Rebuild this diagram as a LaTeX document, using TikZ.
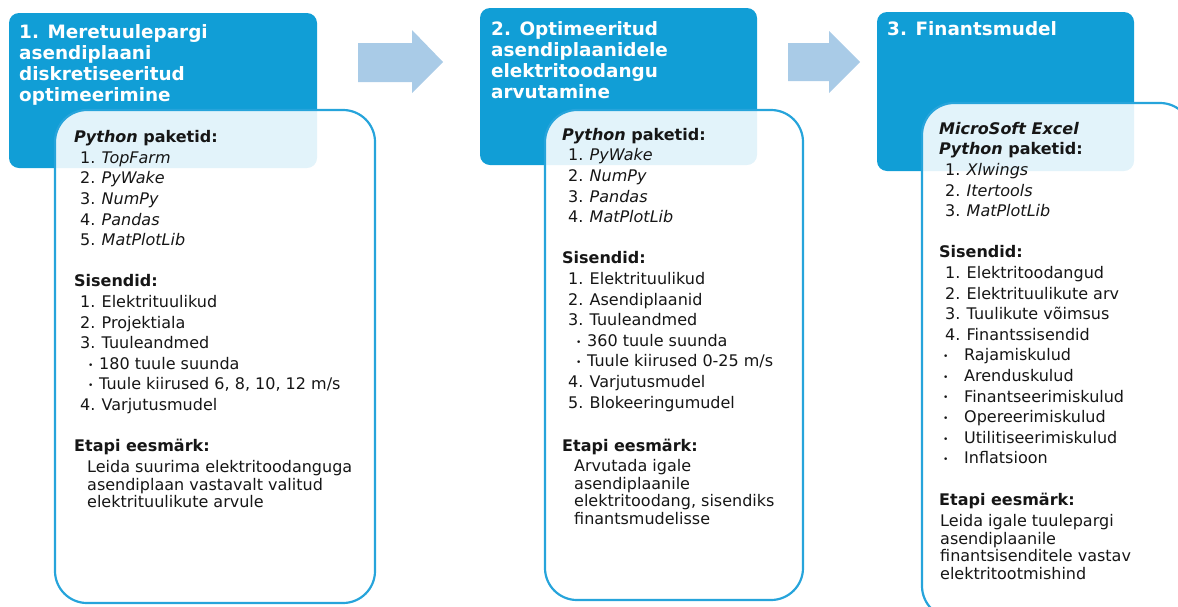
\documentclass[tikz,border=0pt]{standalone}
\usepackage{fontspec}
\setmainfont{DejaVu Sans}

\definecolor{stageblue}{RGB}{17,158,214}
\definecolor{frameblue}{RGB}{38,164,219}
\definecolor{arrowblue}{RGB}{169,203,231}
\definecolor{ink}{RGB}{22,22,22}

\newcommand\topstrut{\rule{0pt}{13pt}}
\newcommand\nr[2]{\hspace*{6pt}\makebox[21.5pt][l]{#1.}#2}
\newcommand\dotmark{\raisebox{1.2pt}{\fontsize{9}{9}\selectfont •}}
\newcommand\bul[1]{\hspace*{14pt}\makebox[11pt][l]{\dotmark}#1}
\newcommand\bulx[1]{\hspace*{4pt}\makebox[21pt][l]{\dotmark}#1}

\begin{document}
\begin{tikzpicture}[x=1pt, y=-1pt,
        stage/.style={fill=stageblue, rounded corners=10pt},
        card/.style={fill=white, fill opacity=0.88, draw=frameblue, line width=2.2pt, rounded corners=32pt},
        blockarrow/.style={fill=arrowblue},
        heading/.style={anchor=north west, inner sep=0pt, align=left, text=white, font=\fontsize{18.4}{21}\selectfont\bfseries},
        body/.style={anchor=north west, inner sep=0pt, align=left, text=ink, font=\fontsize{16}{20.6}\selectfont},
        goal/.style={anchor=north west, inner sep=0pt, align=left, text=ink, font=\fontsize{16}{17.8}\selectfont}]
    \useasboundingbox (0,0) rectangle (1178,606);
    \clip (0,0) rectangle (1178,606);

    \path[stage] (9,13) rectangle (317,168);
    \path[stage] (480,8) rectangle (757,165);
    \path[stage] (877,12) rectangle (1134,171);

    \path[blockarrow] (358,43) -- (412,43) -- (412,30) -- (443,62) -- (412,93) -- (412,82) -- (358,82) -- cycle;
    \path[blockarrow] (788,43) -- (829,43) -- (829,31) -- (860,62) -- (829,93) -- (829,81) -- (788,81) -- cycle;

    \draw[card] (55,110) rectangle (375,603);
    \draw[card] (545,110) rectangle (803,600);
    \draw[card] (922,103) rectangle (1192,618);

    \node[heading] (title1) at (19,24) {\rule{0pt}{14pt}1. Meretuulepargi\\asendiplaani\\diskretiseeritud\\optimeerimine};
    \node[heading] (title2) at (491,21) {\rule{0pt}{14pt}2. Optimeeritud\\asendiplaanidele\\elektritoodangu\\arvutamine};
    \node[heading] (title3) at (887,21) {\rule{0pt}{14pt}3. Finantsmudel};

    \node[body] (list1) at (74,129.5) {\textbf{\textit{Python} paketid:}\topstrut\\
        \nr{1}{\textit{TopFarm}}\\
        \nr{2}{\textit{PyWake}}\\
        \nr{3}{\textit{NumPy}}\\
        \nr{4}{\textit{Pandas}}\\
        \nr{5}{\textit{MatPlotLib}}\\[20.6pt]
        \textbf{Sisendid:}\\
        \nr{1}{Elektrituulikud}\\
        \nr{2}{Projektiala}\\
        \nr{3}{Tuuleandmed}\\
        \bul{180 tuule suunda}\\
        \bul{Tuule kiirused 6, 8, 10, 12 m/s}\\
        \nr{4}{Varjutusmudel}\\[20.6pt]
        \textbf{Etapi eesmärk:}};
    \node[goal] (goal1) at (87,459) {\topstrut Leida suurima elektritoodanguga\\asendiplaan vastavalt valitud\\elektrituulikute arvule};

    \node[body] (list2) at (562,127) {\textbf{\textit{Python} paketid:}\topstrut\\
        \nr{1}{\textit{PyWake}}\\
        \nr{2}{\textit{NumPy}}\\
        \nr{3}{\textit{Pandas}}\\
        \nr{4}{\textit{MatPlotLib}}\\[20.6pt]
        \textbf{Sisendid:}\\
        \nr{1}{Elektrituulikud}\\
        \nr{2}{Asendiplaanid}\\
        \nr{3}{Tuuleandmed}\\
        \bul{360 tuule suunda}\\
        \bul{Tuule kiirused 0-25 m/s}\\
        \nr{4}{Varjutusmudel}\\
        \nr{5}{Blokeeringumudel}\\[22.5pt]
        \textbf{Etapi eesmärk:}};
    \node[goal] (goal2) at (574,458) {\topstrut Arvutada igale\\asendiplaanile\\elektritoodang, sisendiks\\finantsmudelisse};

    \node[body] (list3) at (939,121) {\textbf{\textit{MicroSoft Excel}}\topstrut\\
        \textbf{\textit{Python} paketid:}\\
        \nr{1}{\textit{Xlwings}}\\
        \nr{2}{\textit{Itertools}}\\
        \nr{3}{\textit{MatPlotLib}}\\[20.6pt]
        \textbf{Sisendid:}\\
        \nr{1}{Elektritoodangud}\\
        \nr{2}{Elektrituulikute arv}\\
        \nr{3}{Tuulikute võimsus}\\
        \nr{4}{Finantssisendid}\\
        \bulx{Rajamiskulud}\\
        \bulx{Arenduskulud}\\
        \bulx{Finantseerimiskulud}\\
        \bulx{Opereerimiskulud}\\
        \bulx{Utilitiseerimiskulud}\\
        \bulx{Inflatsioon}\\[20.6pt]
        \textbf{Etapi eesmärk:}};
    \node[goal] (goal3) at (940,513) {\topstrut Leida igale tuulepargi\\asendiplaanile\\finantsisenditele vastav\\elektritootmishind};
\end{tikzpicture}
\end{document}
